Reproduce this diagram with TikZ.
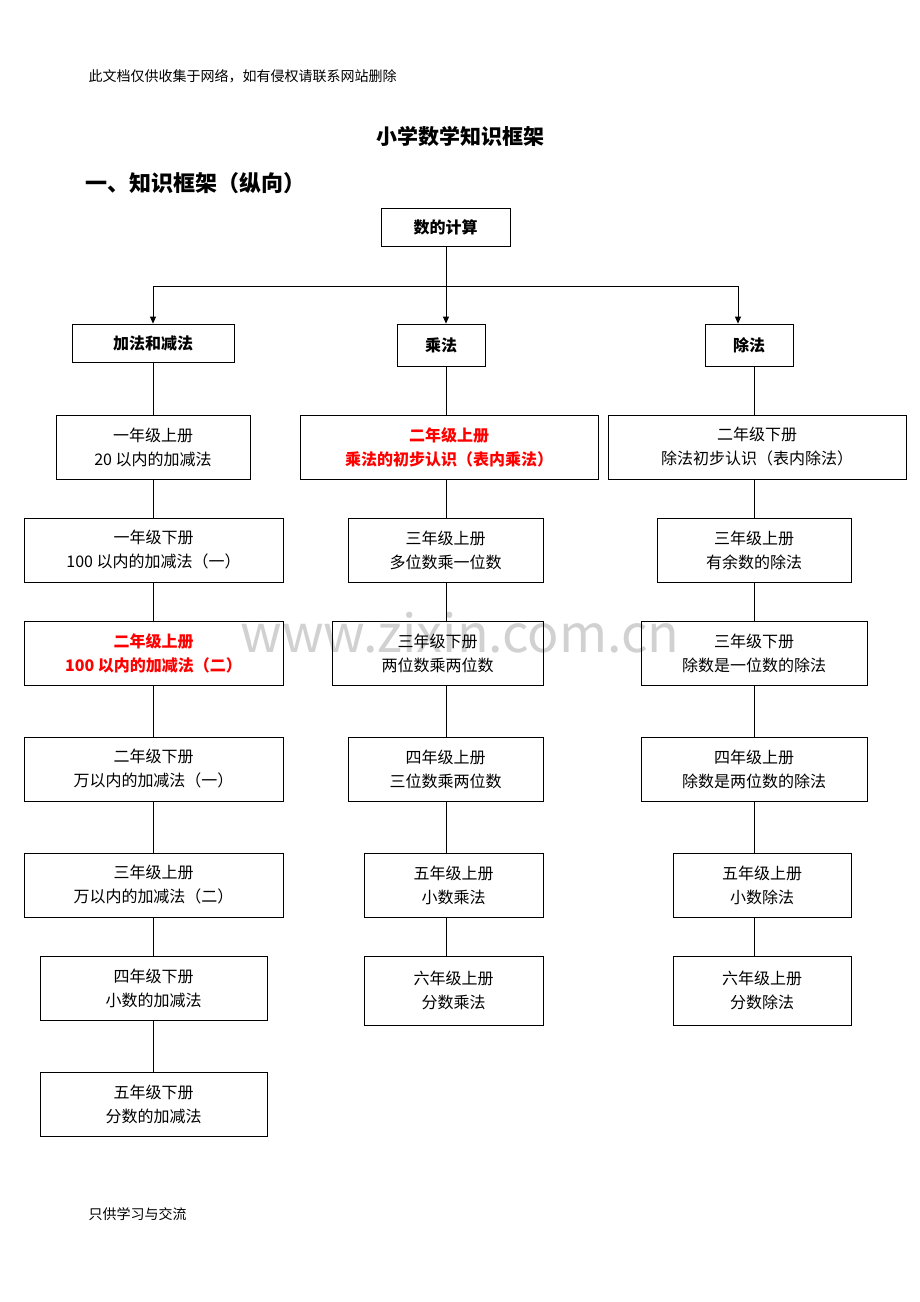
\documentclass[tikz,border=0pt]{standalone}
\usepackage{fontspec}
\setmainfont{Noto Sans CJK SC}
\usetikzlibrary{arrows.meta}
\begin{document}
\begin{tikzpicture}[x=1pt,y=-1pt,
 box/.style={draw,line width=0.8pt,inner sep=0pt,align=center,font=\fontsize{16}{24}\selectfont},
 red/.style={text={rgb,255:red,255;green,0;blue,0},font=\fontsize{16}{24}\selectfont\bfseries},
 head/.style={font=\fontsize{16}{20}\selectfont\bfseries},
 ln/.style={line width=0.8pt},
 arr/.style={ln,-{Triangle[length=7pt,width=6pt]}}]
\useasboundingbox[fill=white] (0,0) rectangle (920,1302);
\newcommand\bx[6]{\node[box,minimum width={#4-#2},minimum height={#5-#3},#6] (#1) at ({(#2+#4)/2},{(#3+#5)/2})}
\node[anchor=west,font=\fontsize{14}{16}\selectfont] (hd) at (85,76) {此文档仅供收集于网络，如有侵权请联系网站删除};
\node[font=\fontsize{21}{24}\selectfont\bfseries] (title) at (460,136) {小学数学知识框架};
\node[anchor=west,font=\fontsize{22}{26}\selectfont\bfseries] (sec) at (82,183) {一、知识框架（纵向）};
\node[anchor=west,font=\fontsize{14}{16}\selectfont] (ft) at (85,1214) {只供学习与交流};
\node[text=black!18,font=\fontsize{52}{56}\selectfont] (wm) at (460,633) {www.zixin.com.cn};
\coordinate (X1) at (153,0); \coordinate (X2) at (446,0); \coordinate (X3) at (754,0);
\bx{top}{381}{208}{510}{246}{head}{数的计算};
\bx{a0}{72}{324}{234}{362}{head}{加法和减法};
\bx{b0}{397}{324}{485}{366}{head}{乘法};
\bx{c0}{705}{324}{793}{366}{head}{除法};
\bx{a1}{56}{415}{250}{479}{}{一年级上册\\20 以内的加减法};
\bx{a2}{24}{518}{283}{582}{}{一年级下册\\100 以内的加减法（一）};
\bx{a3}{24}{621}{283}{685}{red}{二年级上册\\100 以内的加减法（二）};
\bx{a4}{24}{737}{283}{801}{}{二年级下册\\万以内的加减法（一）};
\bx{a5}{24}{853}{283}{917}{}{三年级上册\\万以内的加减法（二）};
\bx{a6}{40}{956}{267}{1020}{}{四年级下册\\小数的加减法};
\bx{a7}{40}{1072}{267}{1136}{}{五年级下册\\分数的加减法};
\bx{b1}{300}{415}{598}{479}{red}{二年级上册\\乘法的初步认识（表内乘法）};
\bx{b2}{348}{518}{543}{582}{}{三年级上册\\多位数乘一位数};
\bx{b3}{332}{621}{543}{685}{fill=none}{三年级下册\\两位数乘两位数};
\bx{b4}{348}{737}{543}{801}{}{四年级上册\\三位数乘两位数};
\bx{b5}{364}{853}{543}{917}{}{五年级上册\\小数乘法};
\bx{b6}{364}{956}{543}{1025}{}{六年级上册\\分数乘法};
\bx{c1}{608}{415}{906}{479}{}{二年级下册\\除法初步认识（表内除法）};
\bx{c2}{657}{518}{851}{582}{}{三年级上册\\有余数的除法};
\bx{c3}{641}{621}{867}{685}{}{三年级下册\\除数是一位数的除法};
\bx{c4}{641}{737}{867}{801}{}{四年级上册\\除数是两位数的除法};
\bx{c5}{673}{853}{851}{917}{}{五年级上册\\小数除法};
\bx{c6}{673}{956}{851}{1025}{}{六年级上册\\分数除法};
\coordinate (J) at (446,286);
\draw[ln] (top.south -| X2) -- (J);
\draw[ln] (J) -- (J -| a0);
\draw[ln] (J) -- (J -| 738,0);
\draw[arr] (J -| a0) -- (a0.north);
\draw[arr] (J) -- (b0.north -| X2);
\draw[arr] (J -| 738,0) -- (c0.north -| 738,0);
\foreach \p/\q in {a0/a1,a1/a2,a2/a3,a3/a4,a4/a5,a5/a6,a6/a7}
  \draw[ln] (\p.south -| X1) -- (\q.north -| X1);
\foreach \p/\q in {b0/b1,b1/b2,b2/b3,b3/b4,b4/b5,b5/b6}
  \draw[ln] (\p.south -| X2) -- (\q.north -| X2);
\foreach \p/\q in {c0/c1,c1/c2,c2/c3,c3/c4,c4/c5,c5/c6}
  \draw[ln] (\p.south -| X3) -- (\q.north -| X3);
\end{tikzpicture}
\end{document}
